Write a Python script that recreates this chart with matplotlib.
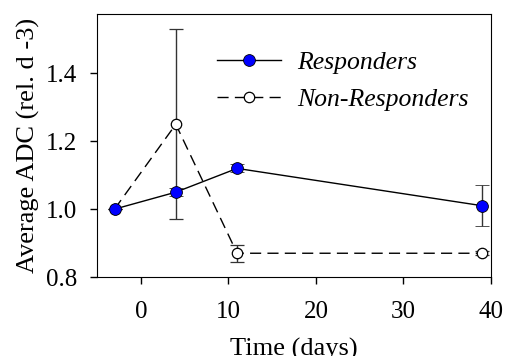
import numpy as np
import matplotlib
matplotlib.use('Agg')
import matplotlib.pyplot as plt
from matplotlib.lines import Line2D

plt.rcParams['font.family'] = 'serif'
plt.rcParams['font.serif'] = ['Liberation Serif', 'DejaVu Serif']

days = [-3, 4, 11, 39]
resp = [1.00, 1.05, 1.12, 1.01]
resp_err = [0.0, 0.012, 0.012, 0.06]
nonresp = [1.00, 1.25, 0.87, 0.87]
nonresp_err = [0.0, 0.28, 0.025, 0.006]

dash = (0, (8, 4.5))

fig = plt.figure(figsize=(5.05, 3.56), dpi=100)
ax = fig.add_axes([97/505, 1-277/356, (491-97)/505, (277-14)/356])

ax.errorbar(days, nonresp, yerr=nonresp_err, color='black', ls=dash, lw=1,
            marker='o', ms=7.5, mfc='white', mec='black', mew=0.9,
            ecolor='#333333', elinewidth=1, capsize=5.3, capthick=1, zorder=2)
ax.errorbar(days, resp, yerr=resp_err, color='black', ls='-', lw=1,
            marker='o', ms=8.5, mfc='#0000ff', mec='black', mew=0.6,
            ecolor='#333333', elinewidth=1, capsize=5.3, capthick=1, zorder=3)

ax.set_xlim(-5, 40)
ax.set_ylim(0.8, 1.575)
ax.set_xticks([0, 10, 20, 30, 40])
ax.set_yticks([0.8, 1.0, 1.2, 1.4])
ax.set_yticklabels(['0.8', '1.0', '1.2', '1.4'])
ax.tick_params(direction='out', length=5, width=1, labelsize=18)
ax.tick_params(axis='y', pad=9)
ax.tick_params(axis='x', pad=12)
ax.set_xlabel('Time (days)', fontsize=19)
ax.set_ylabel('Average ADC (rel. d -3)', fontsize=19)
ax.xaxis.set_label_coords(0.5, -0.232)
ax.yaxis.set_label_coords(-0.145, 0.5)

handles = [Line2D([], [], color='black', lw=1, marker='o', ms=8.5, mfc='#0000ff', mec='black', mew=0.6),
           Line2D([], [], color='black', lw=1, ls=dash, marker='o', ms=7.5, mfc='white', mec='black', mew=0.9)]
ax.legend(handles, ['Responders', 'Non-Responders'], loc='upper left', bbox_to_anchor=(0.305, 0.86),
          frameon=False, prop={'style': 'italic', 'size': 18.5}, borderpad=0, borderaxespad=0,
          handlelength=2.5, handletextpad=0.6, labelspacing=0.55)

fig.savefig('out.png', dpi=100)
